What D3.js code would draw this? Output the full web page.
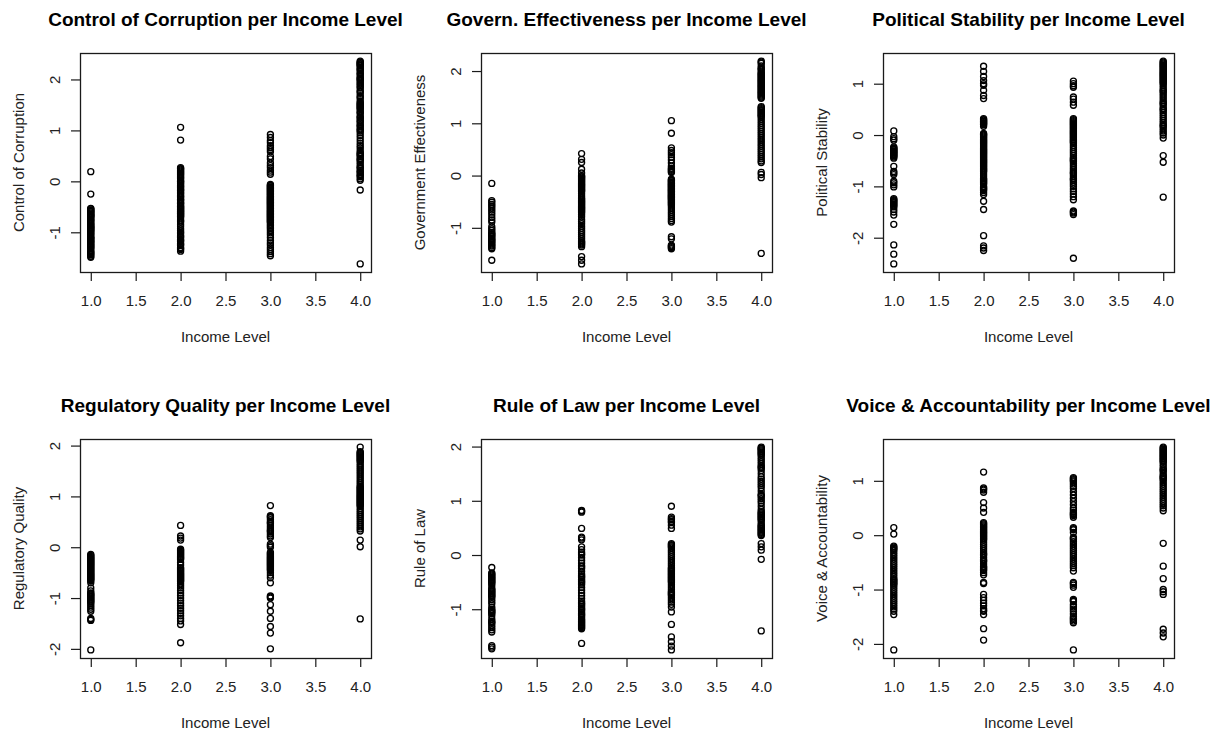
<!DOCTYPE html>
<html>
<head>
<meta charset="utf-8">
<script src="https://cdn.jsdelivr.net/npm/d3@7"></script>
<style>
  html, body { margin: 0; padding: 0; background: #fff; }
  svg { display: block; font-family: "Liberation Sans", Arial, sans-serif; }
</style>
</head>
<body>
<svg id="chart" width="1222" height="731"></svg>
<script>
// Income levels on the x axis and their tick labels
const incomeLevels = [1, 2, 3, 4];
const xTickValues = [1.0, 1.5, 2.0, 2.5, 3.0, 3.5, 4.0];

const panelTitles = [
  "Control of Corruption per Income Level",
  "Govern. Effectiveness per Income Level",
  "Political Stability per Income Level",
  "Regulatory Quality per Income Level",
  "Rule of Law per Income Level",
  "Voice & Accountability per Income Level"
];
const yAxisLabels = [
  "Control of Corruption",
  "Government Effectiveness",
  "Political Stability",
  "Regulatory Quality",
  "Rule of Law",
  "Voice & Accountability"
];
const yTickValues = [
  [-1, 0, 1, 2],
  [-1, 0, 1, 2],
  [-2, -1, 0, 1],
  [-2, -1, 0, 1, 2],
  [-1, 0, 1, 2],
  [-2, -1, 0, 1]
];

// Indicator scores by income level (one inner list per level 1..4)
const controlOfCorruption = [
  [0.19, -0.25, -0.53, -0.54, -0.56, -0.57, -0.59, -0.6, -0.62, -0.64, -0.65, -0.67, -0.68, -0.7, -0.71, -0.74, -0.76, -0.77, -0.8, -0.82, -0.84, -0.86, -0.88, -0.9, -0.91, -0.93, -0.95, -0.97, -0.98, -1.01, -1.03, -1.05, -1.08, -1.1, -1.12, -1.13, -1.16, -1.18, -1.19, -1.22, -1.24, -1.26, -1.28, -1.3, -1.32, -1.35, -1.38, -1.4, -1.42, -1.44, -1.47, -1.49],
  [1.06, 0.81, 0.27, 0.25, 0.24, 0.22, 0.2, 0.18, 0.16, 0.14, 0.12, 0.09, 0.07, 0.05, 0.02, 0.0, -0.01, -0.03, -0.05, -0.08, -0.1, -0.12, -0.15, -0.17, -0.18, -0.21, -0.23, -0.25, -0.28, -0.3, -0.31, -0.35, -0.36, -0.38, -0.41, -0.43, -0.44, -0.47, -0.49, -0.5, -0.52, -0.53, -0.55, -0.56, -0.58, -0.59, -0.61, -0.63, -0.64, -0.66, -0.68, -0.69, -0.72, -0.76, -0.78, -0.8, -0.84, -0.88, -0.93, -0.97, -1.0, -1.02, -1.06, -1.08, -1.1, -1.14, -1.16, -1.18, -1.22, -1.24, -1.26, -1.3, -1.32, -1.34, -1.37],
  [0.92, 0.86, 0.8, 0.76, 0.7, 0.66, 0.62, 0.58, 0.49, 0.44, 0.36, 0.31, 0.27, 0.22, 0.18, 0.14, -0.06, -0.08, -0.09, -0.11, -0.12, -0.14, -0.15, -0.17, -0.18, -0.2, -0.21, -0.23, -0.24, -0.26, -0.27, -0.29, -0.3, -0.32, -0.33, -0.35, -0.36, -0.38, -0.39, -0.41, -0.42, -0.44, -0.45, -0.47, -0.48, -0.5, -0.51, -0.53, -0.54, -0.56, -0.57, -0.59, -0.6, -0.62, -0.63, -0.65, -0.66, -0.68, -0.69, -0.71, -0.72, -0.74, -0.75, -0.77, -0.78, -0.8, -0.81, -0.84, -0.87, -0.9, -0.93, -0.97, -1.01, -1.05, -1.1, -1.16, -1.21, -1.25, -1.3, -1.34, -1.38, -1.42, -1.46],
  [2.36, 2.34, 2.33, 2.31, 2.3, 2.28, 2.27, 2.24, 2.21, 2.19, 2.17, 2.13, 2.11, 2.09, 2.05, 2.03, 2.01, 1.99, 1.97, 1.93, 1.91, 1.88, 1.85, 1.83, 1.78, 1.76, 1.73, 1.68, 1.65, 1.63, 1.58, 1.55, 1.53, 1.51, 1.49, 1.47, 1.45, 1.43, 1.41, 1.37, 1.35, 1.33, 1.28, 1.26, 1.24, 1.2, 1.18, 1.15, 1.11, 1.09, 1.07, 1.03, 1.01, 0.99, 0.95, 0.9, 0.85, 0.8, 0.75, 0.7, 0.66, 0.61, 0.57, 0.55, 0.53, 0.51, 0.49, 0.45, 0.43, 0.41, 0.37, 0.33, 0.29, 0.27, 0.25, 0.21, 0.19, 0.17, 0.13, 0.11, 0.09, 0.05, 0.02, -0.17, -1.62]
];

const governmentEffectiveness = [
  [-0.15, -0.48, -0.51, -0.55, -0.58, -0.62, -0.66, -0.7, -0.75, -0.8, -0.85, -0.89, -0.98, -1.02, -1.05, -1.09, -1.11, -1.13, -1.15, -1.17, -1.2, -1.22, -1.24, -1.26, -1.28, -1.31, -1.33, -1.35, -1.38, -1.4, -1.62],
  [0.42, 0.31, 0.25, 0.12, 0.05, 0.0, -0.02, -0.03, -0.05, -0.07, -0.09, -0.11, -0.13, -0.15, -0.17, -0.19, -0.21, -0.23, -0.25, -0.27, -0.29, -0.31, -0.35, -0.39, -0.43, -0.45, -0.47, -0.49, -0.51, -0.53, -0.55, -0.57, -0.59, -0.61, -0.63, -0.65, -0.67, -0.69, -0.71, -0.75, -0.79, -0.84, -0.88, -0.92, -0.97, -1.01, -1.05, -1.09, -1.13, -1.17, -1.21, -1.25, -1.27, -1.29, -1.31, -1.33, -1.36, -1.55, -1.62, -1.69],
  [1.05, 0.81, 0.53, 0.48, 0.44, 0.4, 0.35, 0.3, 0.24, 0.18, 0.14, 0.12, 0.1, 0.08, 0.06, -0.07, -0.09, -0.1, -0.12, -0.13, -0.15, -0.16, -0.18, -0.19, -0.21, -0.22, -0.24, -0.25, -0.27, -0.28, -0.3, -0.31, -0.33, -0.34, -0.36, -0.37, -0.39, -0.4, -0.42, -0.43, -0.45, -0.46, -0.48, -0.5, -0.52, -0.54, -0.56, -0.58, -0.62, -0.66, -0.7, -0.74, -0.78, -0.82, -0.86, -0.89, -1.17, -1.21, -1.33, -1.35, -1.36, -1.38, -1.4],
  [2.19, 2.17, 2.15, 2.1, 2.06, 2.04, 2.02, 1.98, 1.96, 1.94, 1.92, 1.9, 1.88, 1.86, 1.84, 1.82, 1.8, 1.78, 1.76, 1.74, 1.72, 1.7, 1.68, 1.66, 1.64, 1.62, 1.6, 1.58, 1.56, 1.54, 1.52, 1.5, 1.48, 1.32, 1.3, 1.28, 1.26, 1.24, 1.22, 1.2, 1.18, 1.16, 1.14, 1.12, 1.08, 1.04, 1.0, 0.96, 0.92, 0.88, 0.84, 0.8, 0.76, 0.72, 0.68, 0.64, 0.6, 0.56, 0.52, 0.48, 0.44, 0.4, 0.36, 0.32, 0.28, 0.25, 0.06, 0.02, -0.04, -1.49]
];

const politicalStability = [
  [0.08, -0.03, -0.07, -0.1, -0.23, -0.25, -0.26, -0.28, -0.29, -0.31, -0.32, -0.34, -0.35, -0.37, -0.38, -0.4, -0.41, -0.43, -0.45, -0.61, -0.71, -0.74, -0.77, -0.9, -0.93, -0.97, -1.01, -1.24, -1.26, -1.28, -1.3, -1.32, -1.34, -1.36, -1.38, -1.4, -1.45, -1.5, -1.56, -1.74, -2.14, -2.32, -2.51],
  [1.34, 1.24, 1.14, 1.06, 1.0, 0.97, 0.87, 0.77, 0.71, 0.32, 0.3, 0.29, 0.27, 0.26, 0.24, 0.23, 0.21, 0.2, 0.17, 0.03, 0.01, 0.0, -0.02, -0.04, -0.06, -0.08, -0.1, -0.12, -0.14, -0.16, -0.18, -0.2, -0.22, -0.24, -0.26, -0.28, -0.3, -0.32, -0.34, -0.36, -0.38, -0.4, -0.42, -0.44, -0.46, -0.48, -0.5, -0.52, -0.54, -0.56, -0.58, -0.6, -0.62, -0.64, -0.66, -0.68, -0.7, -0.72, -0.76, -0.8, -0.84, -0.86, -0.88, -0.9, -0.92, -0.94, -0.96, -1.0, -1.02, -1.04, -1.06, -1.08, -1.12, -1.16, -1.29, -1.45, -1.96, -2.16, -2.2, -2.25],
  [1.05, 1.0, 0.96, 0.93, 0.74, 0.7, 0.64, 0.58, 0.32, 0.3, 0.28, 0.26, 0.24, 0.22, 0.2, 0.18, 0.16, 0.14, 0.12, 0.1, 0.08, 0.06, 0.04, 0.02, 0.0, -0.02, -0.04, -0.06, -0.08, -0.1, -0.12, -0.14, -0.16, -0.2, -0.24, -0.28, -0.32, -0.36, -0.4, -0.44, -0.46, -0.48, -0.5, -0.52, -0.56, -0.6, -0.64, -0.68, -0.72, -0.74, -0.76, -0.8, -0.84, -0.86, -0.88, -0.92, -0.96, -1.0, -1.05, -1.1, -1.15, -1.2, -1.26, -1.48, -1.5, -1.52, -1.55, -2.4],
  [1.44, 1.42, 1.4, 1.38, 1.36, 1.34, 1.32, 1.3, 1.28, 1.26, 1.24, 1.22, 1.2, 1.18, 1.16, 1.14, 1.12, 1.1, 1.08, 1.06, 1.04, 1.02, 1.0, 0.96, 0.92, 0.88, 0.86, 0.84, 0.8, 0.76, 0.72, 0.68, 0.64, 0.62, 0.6, 0.56, 0.52, 0.5, 0.48, 0.44, 0.4, 0.36, 0.32, 0.28, 0.24, 0.2, 0.18, 0.16, 0.12, 0.08, 0.04, 0.0, -0.06, -0.4, -0.53, -1.21]
];

const regulatoryQuality = [
  [-0.14, -0.16, -0.18, -0.2, -0.22, -0.24, -0.26, -0.28, -0.3, -0.32, -0.34, -0.36, -0.38, -0.4, -0.42, -0.44, -0.46, -0.48, -0.5, -0.52, -0.54, -0.56, -0.58, -0.6, -0.62, -0.64, -0.66, -0.7, -0.8, -0.86, -0.9, -0.92, -0.94, -0.96, -0.98, -1.0, -1.02, -1.04, -1.06, -1.08, -1.1, -1.14, -1.18, -1.22, -1.26, -1.4, -1.42, -1.44, -2.02],
  [0.43, 0.22, 0.18, 0.14, -0.04, -0.06, -0.08, -0.1, -0.12, -0.14, -0.16, -0.18, -0.2, -0.22, -0.24, -0.3, -0.35, -0.4, -0.42, -0.44, -0.46, -0.48, -0.5, -0.52, -0.54, -0.56, -0.58, -0.6, -0.62, -0.64, -0.66, -0.68, -0.72, -0.76, -0.8, -0.85, -0.9, -0.95, -1.0, -1.05, -1.1, -1.15, -1.2, -1.25, -1.3, -1.35, -1.4, -1.45, -1.52, -1.88],
  [0.82, 0.62, 0.6, 0.58, 0.54, 0.5, 0.48, 0.46, 0.42, 0.38, 0.34, 0.32, 0.3, 0.26, 0.22, 0.19, 0.06, 0.03, 0.0, -0.1, -0.12, -0.14, -0.16, -0.18, -0.2, -0.22, -0.24, -0.26, -0.28, -0.3, -0.32, -0.34, -0.36, -0.38, -0.4, -0.42, -0.44, -0.46, -0.5, -0.55, -0.6, -0.7, -0.96, -0.98, -1.0, -1.13, -1.26, -1.4, -1.56, -1.69, -2.0],
  [1.97, 1.88, 1.86, 1.84, 1.82, 1.8, 1.78, 1.76, 1.74, 1.72, 1.7, 1.68, 1.64, 1.6, 1.56, 1.52, 1.48, 1.44, 1.4, 1.36, 1.32, 1.28, 1.24, 1.2, 1.18, 1.16, 1.14, 1.12, 1.1, 1.08, 1.06, 1.04, 1.02, 1.0, 0.98, 0.96, 0.94, 0.92, 0.9, 0.88, 0.86, 0.84, 0.82, 0.8, 0.76, 0.72, 0.68, 0.64, 0.6, 0.56, 0.52, 0.48, 0.44, 0.4, 0.36, 0.32, 0.14, 0.01, -1.41]
];

const ruleOfLaw = [
  [-0.23, -0.33, -0.35, -0.37, -0.39, -0.41, -0.43, -0.45, -0.47, -0.49, -0.51, -0.53, -0.57, -0.62, -0.64, -0.66, -0.68, -0.7, -0.72, -0.74, -0.76, -0.78, -0.82, -0.86, -0.9, -0.96, -1.0, -1.02, -1.04, -1.06, -1.08, -1.12, -1.18, -1.22, -1.24, -1.26, -1.3, -1.34, -1.38, -1.42, -1.67, -1.7, -1.73],
  [0.82, 0.81, 0.79, 0.49, 0.33, 0.31, 0.28, 0.15, 0.1, 0.05, 0.02, 0.0, -0.05, -0.1, -0.15, -0.2, -0.22, -0.25, -0.3, -0.35, -0.38, -0.4, -0.42, -0.45, -0.48, -0.5, -0.52, -0.55, -0.6, -0.65, -0.7, -0.75, -0.8, -0.85, -0.88, -0.9, -0.92, -0.95, -0.98, -1.0, -1.02, -1.05, -1.08, -1.1, -1.12, -1.15, -1.18, -1.2, -1.22, -1.24, -1.26, -1.28, -1.3, -1.32, -1.34, -1.36, -1.63],
  [0.9, 0.7, 0.67, 0.65, 0.62, 0.6, 0.55, 0.49, 0.21, 0.19, 0.17, 0.15, 0.13, 0.09, 0.05, 0.01, -0.03, -0.07, -0.11, -0.15, -0.19, -0.23, -0.25, -0.27, -0.29, -0.31, -0.33, -0.35, -0.37, -0.39, -0.41, -0.43, -0.45, -0.47, -0.49, -0.51, -0.55, -0.59, -0.63, -0.67, -0.69, -0.71, -0.73, -0.75, -0.79, -0.83, -0.87, -0.91, -0.96, -1.05, -1.28, -1.51, -1.6, -1.68, -1.75],
  [1.99, 1.97, 1.96, 1.94, 1.92, 1.9, 1.88, 1.86, 1.84, 1.8, 1.76, 1.72, 1.68, 1.64, 1.62, 1.6, 1.56, 1.5, 1.44, 1.4, 1.36, 1.32, 1.28, 1.24, 1.18, 1.12, 1.1, 1.08, 1.04, 1.0, 0.96, 0.9, 0.84, 0.8, 0.78, 0.76, 0.74, 0.72, 0.7, 0.68, 0.66, 0.64, 0.6, 0.56, 0.54, 0.52, 0.5, 0.48, 0.46, 0.44, 0.42, 0.4, 0.38, 0.36, 0.21, 0.15, 0.09, -0.08, -1.4]
];

const voiceAccountability = [
  [0.14, 0.02, -0.2, -0.22, -0.24, -0.26, -0.28, -0.32, -0.36, -0.4, -0.44, -0.48, -0.52, -0.56, -0.6, -0.64, -0.68, -0.72, -0.76, -0.8, -0.82, -0.84, -0.86, -0.88, -0.9, -0.92, -0.96, -1.0, -1.04, -1.08, -1.12, -1.16, -1.2, -1.24, -1.28, -1.32, -1.36, -1.4, -1.46, -2.11],
  [1.16, 0.87, 0.85, 0.83, 0.79, 0.6, 0.5, 0.42, 0.23, 0.21, 0.19, 0.17, 0.15, 0.13, 0.11, 0.09, 0.07, 0.05, 0.03, 0.01, -0.01, -0.03, -0.05, -0.07, -0.09, -0.13, -0.17, -0.21, -0.25, -0.29, -0.33, -0.35, -0.37, -0.41, -0.45, -0.47, -0.49, -0.53, -0.57, -0.59, -0.61, -0.63, -0.65, -0.69, -0.73, -0.87, -0.89, -1.09, -1.15, -1.2, -1.25, -1.3, -1.35, -1.38, -1.4, -1.46, -1.72, -1.93],
  [1.06, 1.04, 1.02, 1.0, 0.98, 0.94, 0.9, 0.86, 0.8, 0.74, 0.68, 0.62, 0.56, 0.5, 0.46, 0.42, 0.4, 0.38, 0.36, 0.33, 0.14, 0.12, 0.1, 0.05, -0.04, -0.06, -0.08, -0.12, -0.16, -0.2, -0.24, -0.28, -0.32, -0.36, -0.4, -0.44, -0.48, -0.52, -0.56, -0.6, -0.66, -0.87, -0.89, -0.92, -0.96, -1.18, -1.2, -1.22, -1.28, -1.32, -1.36, -1.4, -1.45, -1.5, -1.53, -1.55, -1.58, -1.61, -2.11],
  [1.62, 1.6, 1.58, 1.56, 1.54, 1.52, 1.5, 1.48, 1.46, 1.44, 1.42, 1.4, 1.38, 1.36, 1.34, 1.3, 1.26, 1.22, 1.2, 1.18, 1.14, 1.1, 1.08, 1.06, 1.04, 1.02, 0.98, 0.94, 0.9, 0.86, 0.82, 0.78, 0.74, 0.7, 0.66, 0.62, 0.58, 0.54, 0.5, 0.45, -0.15, -0.57, -0.8, -1.0, -1.04, -1.09, -1.73, -1.8, -1.87]
];

const indicators = [
  controlOfCorruption, governmentEffectiveness, politicalStability,
  regulatoryQuality, ruleOfLaw, voiceAccountability
];

// Panel grid: 2 rows x 3 columns of plot boxes
const boxLeft = [80, 481, 883];
const boxTop = [53, 439];
const boxW = 291, boxH = 219;
const ink = "#1a1a1a";
const labelFont = "'Liberation Sans', Arial, sans-serif";

const svg = d3.select("#chart");

// Extend a range by 4% on each side, as a base-graphics plot does
function padded(lo, hi) {
  const p = (hi - lo) * 0.04;
  return [lo - p, hi + p];
}

indicators.forEach((groups, i) => {
  const col = i % 3, row = Math.floor(i / 3);
  const x0 = boxLeft[col], y0 = boxTop[row];

  const points = [];
  groups.forEach((vals, k) => vals.forEach(v => points.push({ level: incomeLevels[k], value: v })));

  const x = d3.scaleLinear()
    .domain(padded(d3.min(incomeLevels), d3.max(incomeLevels)))
    .range([x0, x0 + boxW]);
  const y = d3.scaleLinear()
    .domain(padded(d3.min(points, d => d.value), d3.max(points, d => d.value)))
    .range([y0 + boxH, y0]);

  const g = svg.append("g");

  // points
  g.append("g")
    .selectAll("circle")
    .data(points)
    .join("circle")
    .attr("cx", d => x(d.level))
    .attr("cy", d => y(d.value))
    .attr("r", 3)
    .attr("fill", "none")
    .attr("stroke", "#000")
    .attr("stroke-width", 1.35);

  // x axis
  const xAxis = g.append("g")
    .attr("transform", `translate(0,${y0 + boxH})`)
    .call(d3.axisBottom(x).tickValues(xTickValues).tickSize(9).tickFormat(d3.format(".1f")));
  xAxis.select(".domain").remove();
  xAxis.selectAll("line").attr("stroke", ink).attr("stroke-width", 1.2);
  xAxis.selectAll("text")
    .attr("y", 34).attr("dy", null)
    .attr("fill", "#222")
    .style("font-size", "15px")
    .style("font-family", labelFont);

  // y axis with rotated labels
  const yAxis = g.append("g")
    .attr("transform", `translate(${x0},0)`)
    .call(d3.axisLeft(y).tickValues(yTickValues[i]).tickSize(9).tickFormat(d => d < 0 ? "-" + Math.abs(d) : String(d)));
  yAxis.select(".domain").remove();
  yAxis.selectAll("line").attr("stroke", ink).attr("stroke-width", 1.2);
  yAxis.selectAll("text")
    .attr("x", null).attr("dy", null)
    .attr("text-anchor", "middle")
    .attr("transform", "translate(-20,0) rotate(-90)")
    .attr("fill", "#222")
    .style("font-size", "15px")
    .style("font-family", labelFont);

  // plot frame
  g.append("rect")
    .attr("x", x0 + 0.5).attr("y", y0 + 0.5)
    .attr("width", boxW).attr("height", boxH)
    .attr("fill", "none")
    .attr("stroke", ink)
    .attr("stroke-width", 1.3);

  // title
  g.append("text")
    .attr("x", x0 + boxW / 2)
    .attr("y", y0 - 27.5)
    .attr("text-anchor", "middle")
    .attr("fill", "#000")
    .style("font-size", "19px")
    .style("font-weight", "bold")
    .text(panelTitles[i]);

  // x label
  g.append("text")
    .attr("x", x0 + boxW / 2)
    .attr("y", y0 + boxH + 70)
    .attr("text-anchor", "middle")
    .attr("fill", "#222")
    .style("font-size", "15px")
    .text("Income Level");

  // y label
  g.append("text")
    .attr("transform", `translate(${x0 - 56},${y0 + boxH / 2}) rotate(-90)`)
    .attr("text-anchor", "middle")
    .attr("fill", "#222")
    .style("font-size", "15px")
    .text(yAxisLabels[i]);
});
</script>
</body>
</html>
